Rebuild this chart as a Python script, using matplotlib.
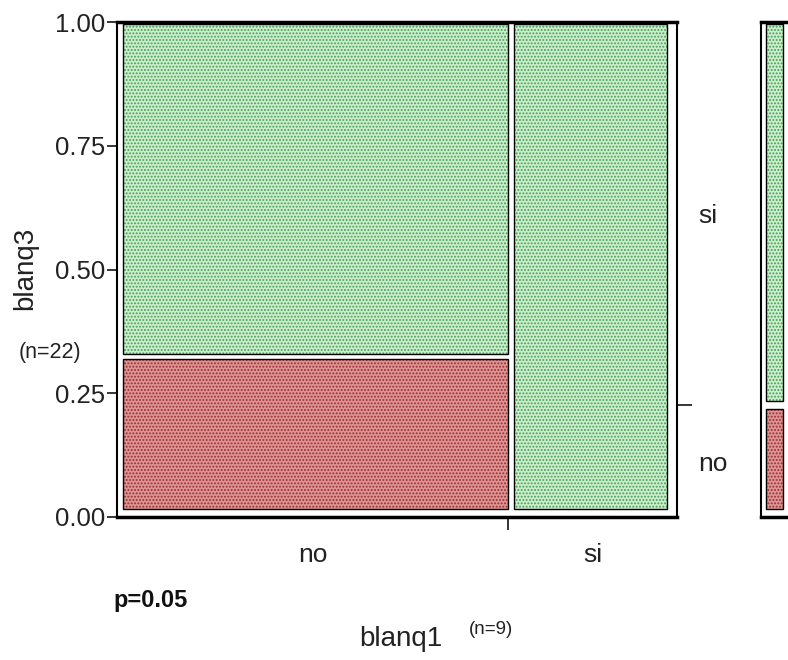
import matplotlib
matplotlib.use("Agg")
import matplotlib.pyplot as plt
from matplotlib.patches import Rectangle

# values
blanq1_levels = ["no", "si"]
blanq1_share = [0.698, 0.302]          # column widths
blanq3_levels = ["no", "si"]
no_share = [0.324, 0.0]                # share of blanq3 == "no" in each column
yticks = [0.0, 0.25, 0.5, 0.75, 1.0]
ytick_labels = ["0.00", "0.25", "0.50", "0.75", "1.00"]
n_left = "(n=22)"
n_bottom = "(n=9)"
p_text = "p=0.05"

green_bg, green_dot = "#cdeccd", "#3f9f4f"
red_bg, red_dot = "#dc9494", "#9c2c2c"

plt.rcParams["font.family"] = ["Liberation Sans", "DejaVu Sans"]
plt.rcParams["hatch.linewidth"] = 0.9


def cell(ax, x0, x1, y0, y1, bg, dot):
    ax.add_patch(Rectangle((x0, y0), x1 - x0, y1 - y0, fc=bg, ec=dot,
                           lw=0, hatch=".....", zorder=2))
    ax.add_patch(Rectangle((x0, y0), x1 - x0, y1 - y0, fill=False,
                           ec="black", lw=1.0, zorder=3))


fig = plt.figure(figsize=(7.88, 6.6), dpi=100)
ax = fig.add_axes([117 / 788, 143 / 660, 560 / 788, 495 / 660])
ax.set_xlim(0, 1)
ax.set_ylim(0, 1)

# mosaic cells
left = 0.0
bounds = []
centers = []
for i, (share, ns) in enumerate(zip(blanq1_share, no_share)):
    right = left + share
    x0 = left + 0.011
    x1 = right - (0.017 if i == len(blanq1_share) - 1 else 0.0)
    if ns > 0:
        cell(ax, x0, x1, 0.016, ns - 0.005, red_bg, red_dot)
        cell(ax, x0, x1, ns + 0.005, 0.996, green_bg, green_dot)
    else:
        cell(ax, x0, x1, 0.016, 0.996, green_bg, green_dot)
    centers.append((left + right) / 2)
    bounds.append(right)
    left = right

overall_no = sum(s * n for s, n in zip(blanq1_share, no_share))

for side, lw in [("top", 2.5), ("bottom", 2.5), ("left", 1.5), ("right", 1.5)]:
    ax.spines[side].set_linewidth(lw)

ax.set_yticks(yticks, ytick_labels)
ax.tick_params(axis="y", length=7, width=1.1, pad=1.5, labelsize=18.5,
               labelcolor="#222222")
ax.set_xticks(bounds[:-1], [""] * (len(bounds) - 1))
ax.set_xticks(centers, blanq1_levels, minor=True)
ax.tick_params(axis="x", which="major", length=9.5, width=1.1)
ax.tick_params(axis="x", which="minor", length=0, pad=19, labelsize=19,
               labelcolor="#222222")

ax.set_ylabel("blanq3", fontsize=20, color="#222222")
ax.yaxis.set_label_coords(-0.14, 0.503)
ax.set_xlabel("blanq1", fontsize=20, color="#222222", va="top")
ax.xaxis.set_label_coords(0.507, -0.22)

ax.text(-0.12, 0.333, n_left, transform=ax.transAxes, fontsize=15.5,
        ha="center", va="center", color="#222222")
ax.text(0.668, -0.228, n_bottom, transform=ax.transAxes, fontsize=13.5,
        ha="center", va="center", color="#222222")
ax.text(-0.007, -0.168, p_text, transform=ax.transAxes, fontsize=17,
        fontweight="bold", ha="left", va="center", color="#111111")

# right side: marginal split tick and level labels
axr = ax.twinx()
axr.set_ylim(0, 1)
for s in axr.spines.values():
    s.set_visible(False)
axr.set_yticks([overall_no], [""])
axr.set_yticks([overall_no / 2, (overall_no + 1) / 2], blanq3_levels, minor=True)
axr.tick_params(axis="y", which="major", length=10.5, width=1.1)
axr.tick_params(axis="y", which="minor", length=0, pad=15, labelsize=19,
                labelcolor="#222222")

# marginal bar panel (partly cut off at right edge)
axm = fig.add_axes([761 / 788, 143 / 660, 40 / 788, 495 / 660])
axm.set_xlim(0, 1)
axm.set_ylim(0, 1)
axm.set_xticks([])
axm.set_yticks([])
for side, lw in [("top", 2.5), ("bottom", 2.5), ("left", 1.5), ("right", 1.5)]:
    axm.spines[side].set_linewidth(lw)
cell(axm, 0.125, 0.55, 0.016, overall_no - 0.008, red_bg, red_dot)
cell(axm, 0.125, 0.55, overall_no + 0.008, 0.996, green_bg, green_dot)

fig.savefig("out.png", dpi=100)
